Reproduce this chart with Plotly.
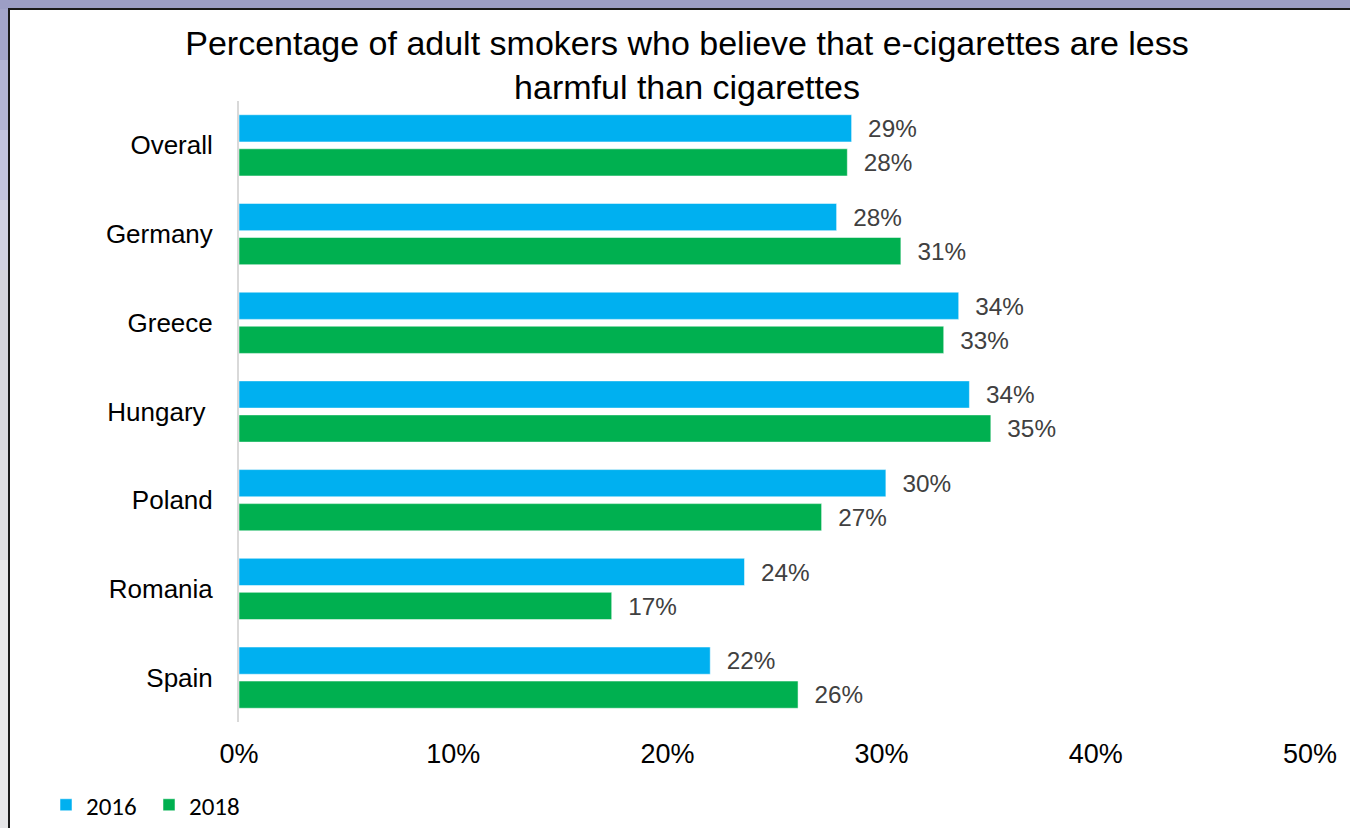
import plotly.graph_objects as go

# Survey results: share of adult smokers who think e-cigarettes are less harmful
countries = ["Overall", "Germany", "Greece", "Hungary\u00a0", "Poland", "Romania", "Spain"]
pct_2016 = [28.6, 27.9, 33.6, 34.1, 30.2, 23.6, 22.0]
pct_2018 = [28.4, 30.9, 32.9, 35.1, 27.2, 17.4, 26.1]
x_ticks = [0, 10, 20, 30, 40, 50]
x_tick_labels = ["0%", "10%", "20%", "30%", "40%", "50%"]

FONT = "Liberation Sans, Arial, sans-serif"
W, H = 1350, 828
L, R, T, B = 239, 40, 101, 106
PW, PH = W - L - R, H - T - B


def px_x(p):
    return (p - L) / PW


def px_y(p):
    return (H - B - p) / PH


fig = go.Figure()
for name, vals, color in [("2016", pct_2016, "#00B0F0"), ("2018", pct_2018, "#00B050")]:
    fig.add_trace(go.Bar(
        y=countries, x=vals, name=name, orientation="h",
        marker=dict(color=color, line=dict(color="rgba(255,255,255,0.5)", width=1)),
        texttemplate="\u00a0\u00a0%{x:.0f}%", textposition="outside",
        textfont=dict(family=FONT, size=25, color="#404040"),
        cliponaxis=False,
    ))

# Slide frame: lavender strips along the top and left, white chart panel with dark border
shapes = []
shapes.append(dict(type="rect", xref="paper", yref="paper",
                   x0=px_x(0), x1=px_x(W), y0=px_y(0), y1=px_y(9),
                   fillcolor="#9c9ec5", line=dict(width=0), layer="below"))
left_steps = [
    (0, 60, "#a3a5ca"), (60, 130, "#b3b5d4"), (130, 200, "#c3c5de"),
    (200, 270, "#d0d1e2"), (270, 360, "#d4d4dc"), (360, 450, "#d8d8de"),
    (450, 560, "#dedee2"), (560, 828, "#e6e6e8"),
]
for y0, y1, c in left_steps:
    shapes.append(dict(type="rect", xref="paper", yref="paper",
                       x0=px_x(0), x1=px_x(9), y0=px_y(max(y0, 9)), y1=px_y(y1),
                       fillcolor=c, line=dict(width=0), layer="below"))
shapes.append(dict(type="rect", xref="paper", yref="paper",
                   x0=px_x(9), x1=px_x(W + 10), y0=px_y(9), y1=px_y(H + 10),
                   fillcolor="white", line=dict(color="#1a1a1a", width=2), layer="below"))

fig.update_layout(
    width=W, height=H,
    margin=dict(l=L, r=R, t=T, b=B, autoexpand=False),
    paper_bgcolor="#e6e6e8",
    plot_bgcolor="rgba(0,0,0,0)",
    barmode="group", bargap=0.233, bargroupgap=0.2,
    shapes=shapes,
    title=dict(
        text="Percentage of adult smokers who believe that e-cigarettes are less<br>harmful than cigarettes",
        x=px_x(687), xref="paper", xanchor="center",
        y=1 - 55 / H, yref="container", yanchor="middle",
        font=dict(family=FONT, size=34, color="#000000"),
    ),
    xaxis=dict(
        range=[0, 50], tickvals=x_ticks, ticktext=x_tick_labels,
        showgrid=False, zeroline=False, showline=False, ticks="",
        tickfont=dict(family=FONT, size=27, color="#000000"),
        ticklabelstandoff=13, automargin=False,
    ),
    yaxis=dict(
        autorange="reversed", showgrid=False, zeroline=False,
        showline=True, linecolor="#d9d9d9", linewidth=2, ticks="",
        tickfont=dict(family=FONT, size=26, color="#000000"),
        ticklabelstandoff=19, automargin=False,
    ),
    legend=dict(
        orientation="h", x=px_x(46), y=px_y(805), xanchor="left", yanchor="middle",
        font=dict(family="Carlito, Open Sans, sans-serif", size=25, color="#000000"),
        bgcolor="rgba(0,0,0,0)", itemwidth=30, entrywidth=58, traceorder="normal",
    ),
    showlegend=True,
)

fig.write_html("out.html")
